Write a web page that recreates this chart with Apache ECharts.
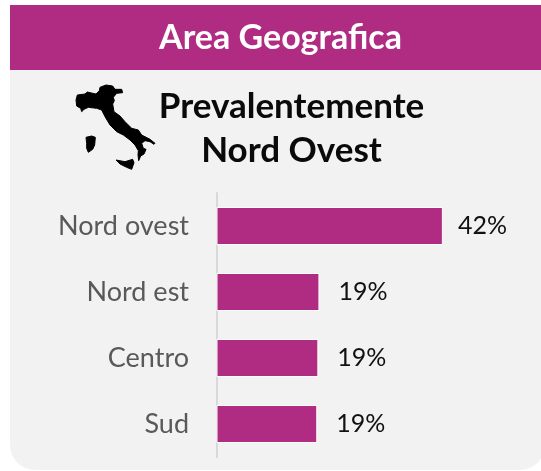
<!DOCTYPE html>
<html>
<head>
<meta charset="utf-8">
<style>html,body{margin:0;padding:0;background:#fff}#c{width:541px;height:471px}</style>
<script src="https://cdn.jsdelivr.net/npm/echarts@6/dist/echarts.min.js"></script>
</head>
<body>
<div id="c"></div>
<script>
const categories = ['Nord ovest', 'Nord est', 'Centro', 'Sud'];
const values = [42, 19.1, 18.9, 18.7];
const valueLabels = ['42%', '19%', '19%', '19%'];
const headerText = 'Area Geografica';
const subtitleText = 'Prevalentemente\nNord Ovest';

const FONT = 'Lato, "Open Sans", sans-serif';
const PURPLE = '#b02c82';

const italy = [[18,60],[22,45],[45,42],[52,36],[60,38],[78,42],[88,32],[90,22],[108,15],[128,18],[135,28],[155,28],[158,38],[140,40],[130,52],[133,62],[128,72],[132,95],[150,108],[165,125],[185,145],[205,150],[215,165],[240,178],[255,190],[252,193],[240,185],[225,182],[215,190],[220,205],[228,208],[222,222],[212,228],[206,242],[204,225],[205,212],[195,195],[180,180],[160,165],[140,155],[120,135],[105,110],[95,90],[80,85],[55,82],[42,88],[35,95],[32,85],[20,78]];
const sardinia = [[48,172],[65,168],[76,172],[74,195],[68,208],[55,217],[50,205],[50,190]];
const sicily = [[138,240],[165,245],[188,238],[192,248],[185,268],[170,262],[150,252]];

const chart = echarts.init(document.getElementById('c'), null, {renderer: 'canvas'});
chart.setOption({
  animation: false,
  backgroundColor: '#ffffff',
  grid: {left: 216.5, top: 193, width: 323.4, height: 264, containLabel: false},
  xAxis: {type: 'value', min: 0, max: 60, show: false},
  yAxis: {
    type: 'category',
    inverse: true,
    data: categories,
    axisLine: {show: true, lineStyle: {color: '#d9d9d9', width: 2}},
    axisTick: {show: false},
    axisLabel: {color: '#595959', fontFamily: FONT, fontSize: 27, margin: 27.5}
  },
  series: [{
    type: 'bar',
    data: values.map((v, i) => ({
      value: v,
      label: {distance: i === 0 ? 15 : 19}
    })),
    barWidth: 38,
    itemStyle: {color: PURPLE, borderColor: '#ffffff', borderWidth: 1},
    label: {
      show: true,
      position: 'right',
      color: '#111111',
      fontFamily: FONT,
      fontSize: 25,
      padding: [4, 0, 0, 0],
      formatter: p => valueLabels[p.dataIndex]
    },
    z: 3
  }],
  graphic: [
    {type: 'rect', z: -10, silent: true, shape: {x: 10, y: 5, width: 535, height: 465, r: [0, 0, 25, 25]}, style: {fill: '#f2f2f2'}},
    {type: 'rect', z: -9, silent: true, shape: {x: 10, y: 5, width: 535, height: 65}, style: {fill: PURPLE}},
    {type: 'text', z: 5, silent: true, style: {x: 280.5, y: 38, text: headerText, fill: '#ffffff', font: 'bold 34px ' + FONT, textAlign: 'center', textVerticalAlign: 'middle'}},
    {type: 'text', z: 5, silent: true, style: {x: 291.5, y: 128.5, text: subtitleText, fill: '#0a0a0a', font: 'bold 35px ' + FONT, textAlign: 'center', textVerticalAlign: 'middle', lineHeight: 44}},
    {type: 'group', x: 70, y: 80, scaleX: 1/3, scaleY: 1/3, silent: true, children: [
      {type: 'polygon', shape: {points: italy}, style: {fill: '#000', stroke: '#000', lineWidth: 3}},
      {type: 'polygon', shape: {points: sardinia}, style: {fill: '#000', stroke: '#000', lineWidth: 3}},
      {type: 'polygon', shape: {points: sicily}, style: {fill: '#000', stroke: '#000', lineWidth: 3}}
    ]}
  ]
});
</script>
</body>
</html>
